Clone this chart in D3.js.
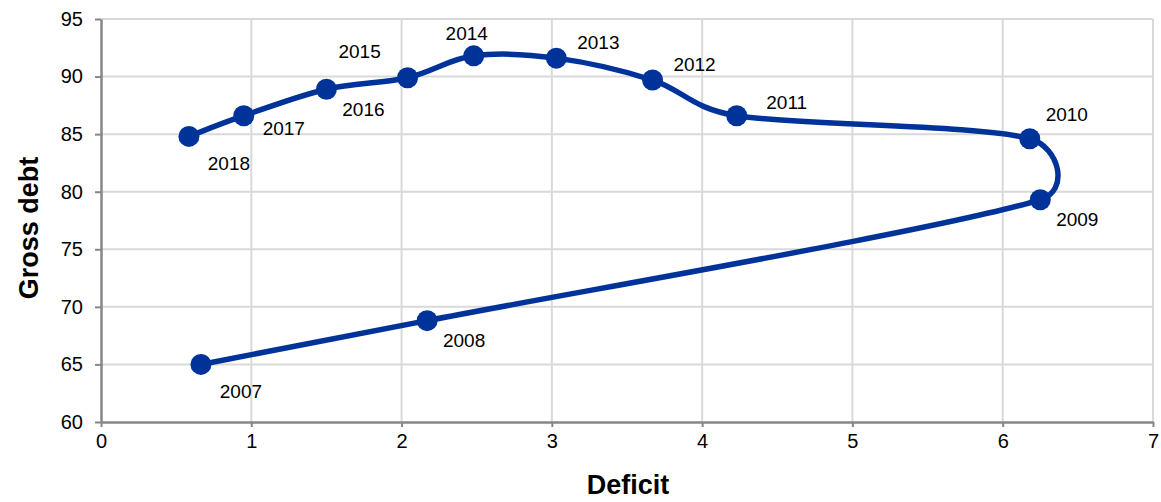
<!DOCTYPE html>
<html><head><meta charset="utf-8">
<script src="https://cdn.jsdelivr.net/npm/d3@7"></script>
<style>body{margin:0;background:#fff}svg{display:block}text{font-family:"Liberation Sans",Arial,sans-serif}</style>
</head><body><svg id="c" width="1161" height="502"></svg>
<script>
const years   = ["2007","2008","2009","2010","2011","2012","2013","2014","2015","2016","2017","2018"];
const deficit = [0.665, 2.17, 6.25, 6.18, 4.23, 3.67, 3.03, 2.48, 2.04, 1.50, 0.95, 0.585];
const debt    = [65.0, 68.8, 79.3, 84.6, 86.6, 89.7, 91.6, 91.8, 89.9, 88.9, 86.6, 84.8];
const labelPos = ["bd","br","br","ur","r","ar","ar","a","al","br","rb","bd"];
const xTicks = [0,1,2,3,4,5,6,7];
const yTicks = [60,65,70,75,80,85,90,95];

const svg = d3.select("#c");
const m = {l:101, r:8, t:19, b:80};
const W = 1161, H = 502;
const x = d3.scaleLinear().domain([0,7]).range([m.l, W-m.r]);
const y = d3.scaleLinear().domain([60,95]).range([H-m.b, m.t]);

const grid = svg.append("g");
grid.selectAll(".gx").data(xTicks.slice(1)).join("line")
  .attr("x1",d=>x(d)).attr("x2",d=>x(d)).attr("y1",y(60)).attr("y2",y(95))
  .attr("stroke","#d9d9d9").attr("stroke-width",2);
grid.selectAll(".gy").data(yTicks.slice(1)).join("line")
  .attr("y1",d=>y(d)).attr("y2",d=>y(d)).attr("x1",x(0)).attr("x2",x(7))
  .attr("stroke","#d9d9d9").attr("stroke-width",2);

const xa = svg.append("g").attr("transform",`translate(0,${y(60)})`)
  .call(d3.axisBottom(x).tickValues(xTicks).tickSize(5).tickSizeOuter(0).tickPadding(7).tickFormat(d3.format("d")));
const ya = svg.append("g").attr("transform",`translate(${x(0)},0)`)
  .call(d3.axisLeft(y).tickValues(yTicks).tickSize(6).tickSizeOuter(0).tickPadding(12).tickFormat(d3.format("d")));
[xa,ya].forEach(a=>{
  a.select(".domain").attr("stroke","#868686").attr("stroke-width",2.5);
  a.selectAll(".tick line").attr("stroke","#868686").attr("stroke-width",2);
  a.selectAll(".tick text").attr("font-size",20).attr("fill","#000")
   .attr("font-family","Liberation Sans, Arial, sans-serif");
});

const pts = years.map((yr,i)=>({yr, dx:deficit[i], db:debt[i], p:labelPos[i]}));

// Excel-style smoothed line: Bezier arms = |P(i+1)-P(i-1)|/6, capped at half the segment length
function smoothPath(P){
  const n = P.length, dist=(a,b)=>Math.hypot(a[0]-b[0],a[1]-b[1]);
  const path = d3.path();
  path.moveTo(P[0][0],P[0][1]);
  for(let i=0;i<n-1;i++){
    const p0=P[Math.max(i-1,0)], p1=P[i], p2=P[i+1], p3=P[Math.min(i+2,n-1)];
    const seg = dist(p1,p2);
    let t1=[(p2[0]-p0[0])/6,(p2[1]-p0[1])/6], t2=[(p3[0]-p1[0])/6,(p3[1]-p1[1])/6];
    const l1=Math.hypot(...t1), l2=Math.hypot(...t2);
    if(l1>seg/2){const k=seg/2/l1; t1=[t1[0]*k,t1[1]*k];}
    if(l2>seg/2){const k=seg/2/l2; t2=[t2[0]*k,t2[1]*k];}
    path.bezierCurveTo(p1[0]+t1[0],p1[1]+t1[1],p2[0]-t2[0],p2[1]-t2[1],p2[0],p2[1]);
  }
  return path.toString();
}
svg.append("path").attr("d",smoothPath(pts.map(d=>[x(d.dx),y(d.db)]))).attr("fill","none")
  .attr("stroke","#003399").attr("stroke-width",5.5).attr("stroke-linejoin","round");
svg.selectAll(".pt").data(pts).join("circle")
  .attr("cx",d=>x(d.dx)).attr("cy",d=>y(d.db)).attr("r",10.5).attr("fill","#003399");

const off = {br:[37,20], bd:[40,27], rb:[40,13], r:[50,-13], ar:[42,-16], ur:[37,-24], a:[-7,-22], al:[-48,-26]};
svg.selectAll(".lbl").data(pts).join("text")
  .attr("x",d=>x(d.dx)+off[d.p][0]).attr("y",d=>y(d.db)+off[d.p][1])
  .attr("text-anchor","middle").attr("dominant-baseline","central")
  .attr("font-size",19).attr("fill","#000").text(d=>d.yr);

svg.append("text").attr("x",628).attr("y",494).attr("text-anchor","middle")
  .attr("font-size",27).attr("font-weight","bold").text("Deficit");
svg.append("text").attr("transform","translate(38,228) rotate(-90)").attr("text-anchor","middle")
  .attr("font-size",27).attr("font-weight","bold").text("Gross debt");
</script></body></html>
